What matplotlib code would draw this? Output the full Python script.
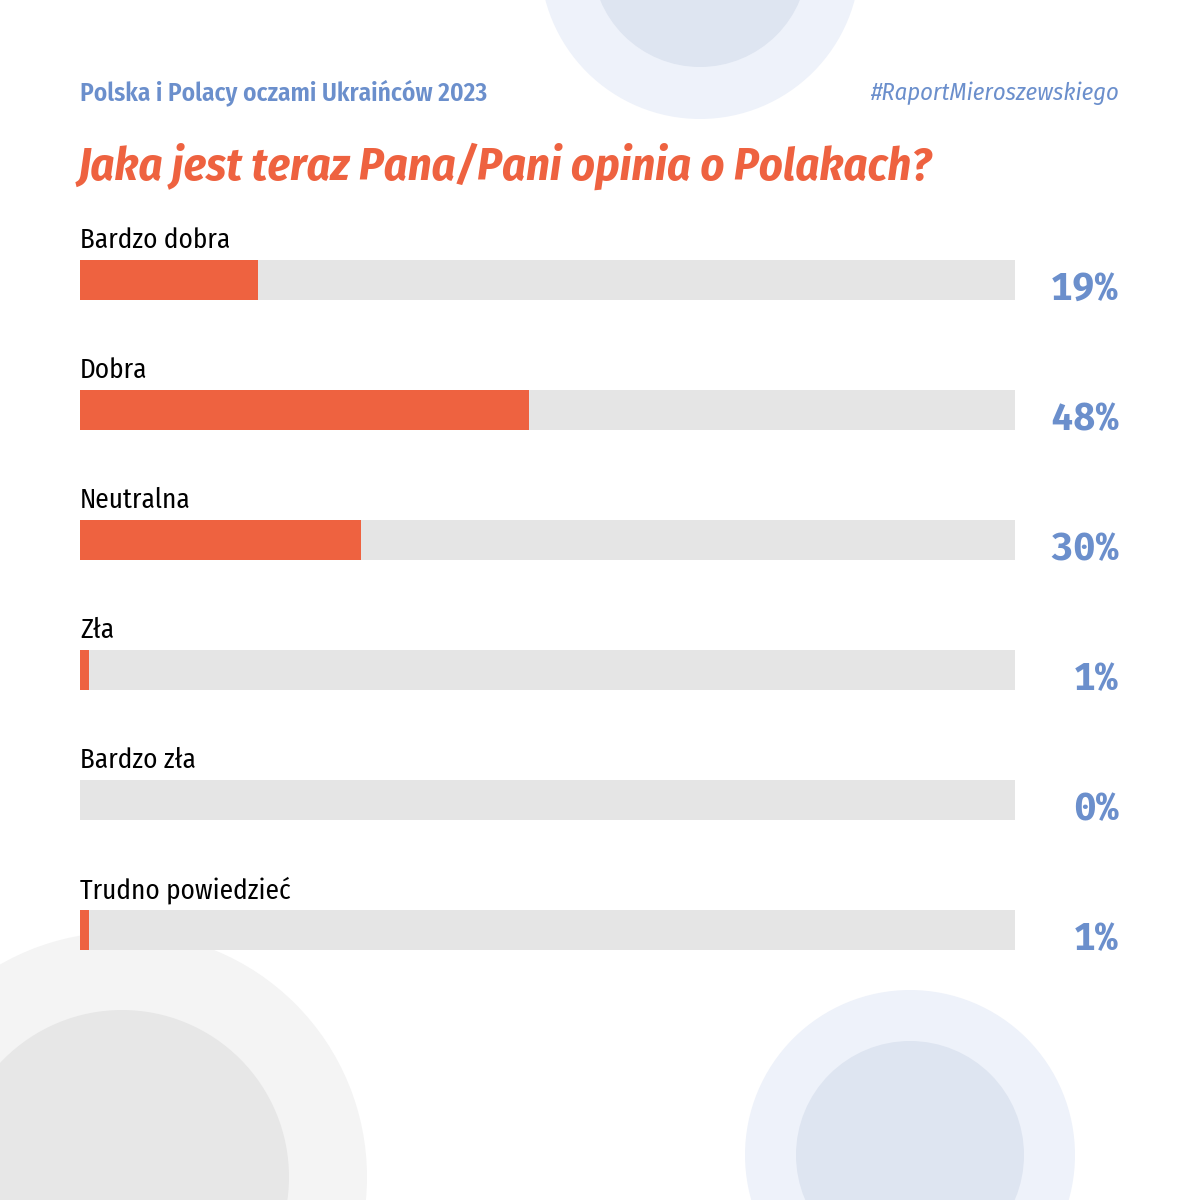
import matplotlib
matplotlib.use("Agg")
import matplotlib.pyplot as plt
from matplotlib.patches import Circle

# data
categories = ["Bardzo dobra", "Dobra", "Neutralna", "Zła", "Bardzo zła", "Trudno powiedzieć"]
values = [19, 48, 30, 1, 0, 1]
value_labels = ["19%", "48%", "30%", "1%", "0%", "1%"]

subtitle = "Polska i Polacy oczami Ukraińców 2023"
hashtag = "#RaportMieroszewskiego"
title = "Jaka jest teraz Pana/Pani opinia o Polakach?"

ORANGE = "#ee6240"
TRACK = "#e5e5e5"
BLUE = "#6b8fcc"
COND = ["Fira Sans Condensed", "Roboto Condensed", "DejaVu Sans"]
MONO = ["Fira Mono", "Liberation Mono", "DejaVu Sans Mono"]

W = H = 1200
fig = plt.figure(figsize=(12, 12), dpi=100)
fig.patch.set_facecolor("white")

# background layer in pixel coordinates
bg = fig.add_axes([0, 0, 1, 1])
bg.set_xlim(0, W)
bg.set_ylim(H, 0)
bg.axis("off")

# decorative circles
for (cx, cy, r1, r2, c1, c2) in [
    (700, -41, 160, 108, "#eef2fa", "#dee5f1"),
    (910, 1155, 165, 114, "#eef2fa", "#dee5f1"),
    (122, 1177, 245, 167, "#f4f4f4", "#e7e7e7"),
]:
    bg.add_patch(Circle((cx, cy), r1, color=c1, lw=0, zorder=0))
    bg.add_patch(Circle((cx, cy), r2, color=c2, lw=0, zorder=1))

bg.text(80, 100, subtitle, color=BLUE, fontsize=18.3, fontweight="semibold",
        family=COND, ha="left", va="baseline")
bg.text(1119, 100, hashtag, color=BLUE, fontsize=17.6, style="italic",
        family=COND, ha="right", va="baseline")
bg.text(78, 180, title, color=ORANGE, fontsize=33.3, fontweight="bold",
        style="italic", family=COND, ha="left", va="baseline")

# bar axes: x from 80px to 1015px, rows of 130px starting at 215px
n = len(categories)
row = 130
top = 215
ax = fig.add_axes([80 / W, 1 - (top + row * n) / H, 935 / W, row * n / H])
ax.set_xlim(0, 100)
ax.set_ylim(n - 0.5, -0.5)
ax.axis("off")
ax.patch.set_alpha(0)

ypos = list(range(n))
h = 40 / row
ax.barh(ypos, [100] * n, height=h, color=TRACK, lw=0, zorder=1)
ax.barh(ypos, values, height=h, color=ORANGE, lw=0, zorder=2)

for i, (cat, lab) in enumerate(zip(categories, value_labels)):
    ax.text(0, i - 32 / row, cat, fontsize=19.5, color="black",
            family=COND, ha="left", va="baseline", clip_on=False)
    ax.text(111.1, i + 20 / row, lab, fontsize=27.5, fontweight="bold",
            color=BLUE, family=MONO, ha="right", va="baseline", clip_on=False)

fig.savefig("out.png", dpi=100, facecolor="white")
